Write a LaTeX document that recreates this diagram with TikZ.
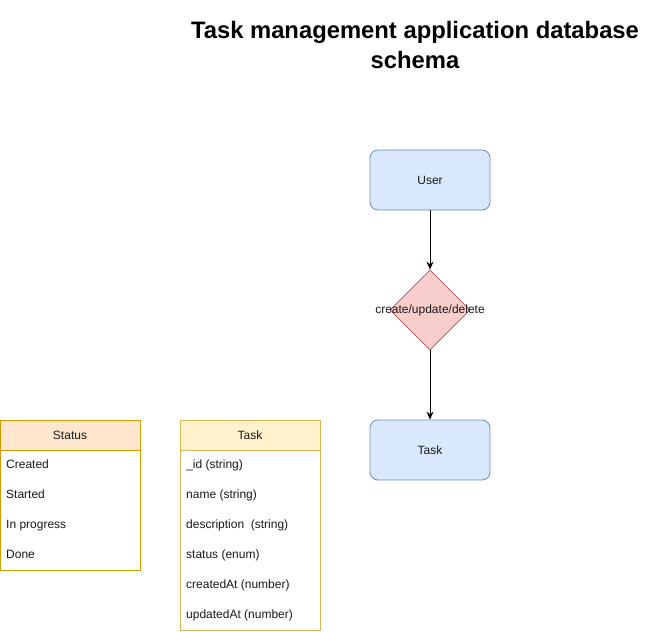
\documentclass[tikz,border=0pt]{standalone}
\usepackage{fontspec}
\setmainfont{Liberation Sans}
\usetikzlibrary{shapes.geometric,arrows.meta}
\definecolor{bluefill}{HTML}{DAE8FC}
\definecolor{bluedraw}{HTML}{6C8EBF}
\definecolor{redfill}{HTML}{F8CECC}
\definecolor{reddraw}{HTML}{B85450}
\definecolor{orangefill}{HTML}{FFE6CC}
\definecolor{orangedraw}{HTML}{D79B00}
\definecolor{yellowfill}{HTML}{FFF2CC}
\definecolor{yellowdraw}{HTML}{D6B656}
\definecolor{txt}{HTML}{1A1A1A}
\begin{document}
\begin{tikzpicture}[x=1pt,y=-1pt,
  every node/.style={font=\fontsize{12}{14}\selectfont, text=txt, inner sep=0pt},
  entity/.style={draw=bluedraw, fill=bluefill, rounded corners=8pt, minimum width=120pt, minimum height=60pt, line width=0.8pt},
  decision/.style={diamond, draw=reddraw, fill=redfill, minimum width=80pt, minimum height=80pt, aspect=1, line width=0.8pt},
  rowtext/.style={anchor=west, text height=9pt, text depth=3pt},
  conn/.style={-{Stealth[length=8pt,width=7pt]}, line width=0.9pt, black}
]
\useasboundingbox (0,0) rectangle (671,631);
\fill[white] (0,0) rectangle (671,631);

% title
\node[font=\bfseries\fontsize{23.8}{30}\selectfont, text=black, align=center] (title) at (415,45) {Task management application database\\schema};

% flow
\node[entity] (user) at (430,180) {User};
\node[decision] (dec) at (430,310) {};
\node (declabel) at (430,310) {create/update/delete};
\node[entity] (task) at (430,450) {Task};
\draw[conn] (user.south) -- (dec.north);
\draw[conn] (dec.south) -- (task.north);

% Status table
\fill[white] (0.5,420) rectangle (140,570);
\fill[orangefill] (0.5,420) rectangle (140,450);
\draw[orangedraw, line width=0.8pt] (0.5,420) rectangle (140,570);
\draw[orangedraw, line width=0.8pt] (0.5,450) -- (140,450);
\node (statush) at (70,435) {Status};
\node[rowtext] (s1) at (6,465) {Created};
\node[rowtext] (s2) at (6,495) {Started};
\node[rowtext] (s3) at (6,525) {In progress};
\node[rowtext] (s4) at (6,555) {Done};

% Task table
\fill[white] (180,420) rectangle (320,630);
\fill[yellowfill] (180,420) rectangle (320,450);
\draw[yellowdraw, line width=0.8pt] (180,420) rectangle (320,630);
\draw[yellowdraw, line width=0.8pt] (180,450) -- (320,450);
\node (taskh) at (250,435) {Task};
\node[rowtext] (t1) at (186,465) {\_id (string)};
\node[rowtext] (t2) at (186,495) {name (string)};
\node[rowtext] (t3) at (186,525) {description\ \ (string)};
\node[rowtext] (t4) at (186,555) {status (enum)};
\node[rowtext] (t5) at (186,585) {createdAt (number)};
\node[rowtext] (t6) at (186,615) {updatedAt (number)};
\end{tikzpicture}
\end{document}
